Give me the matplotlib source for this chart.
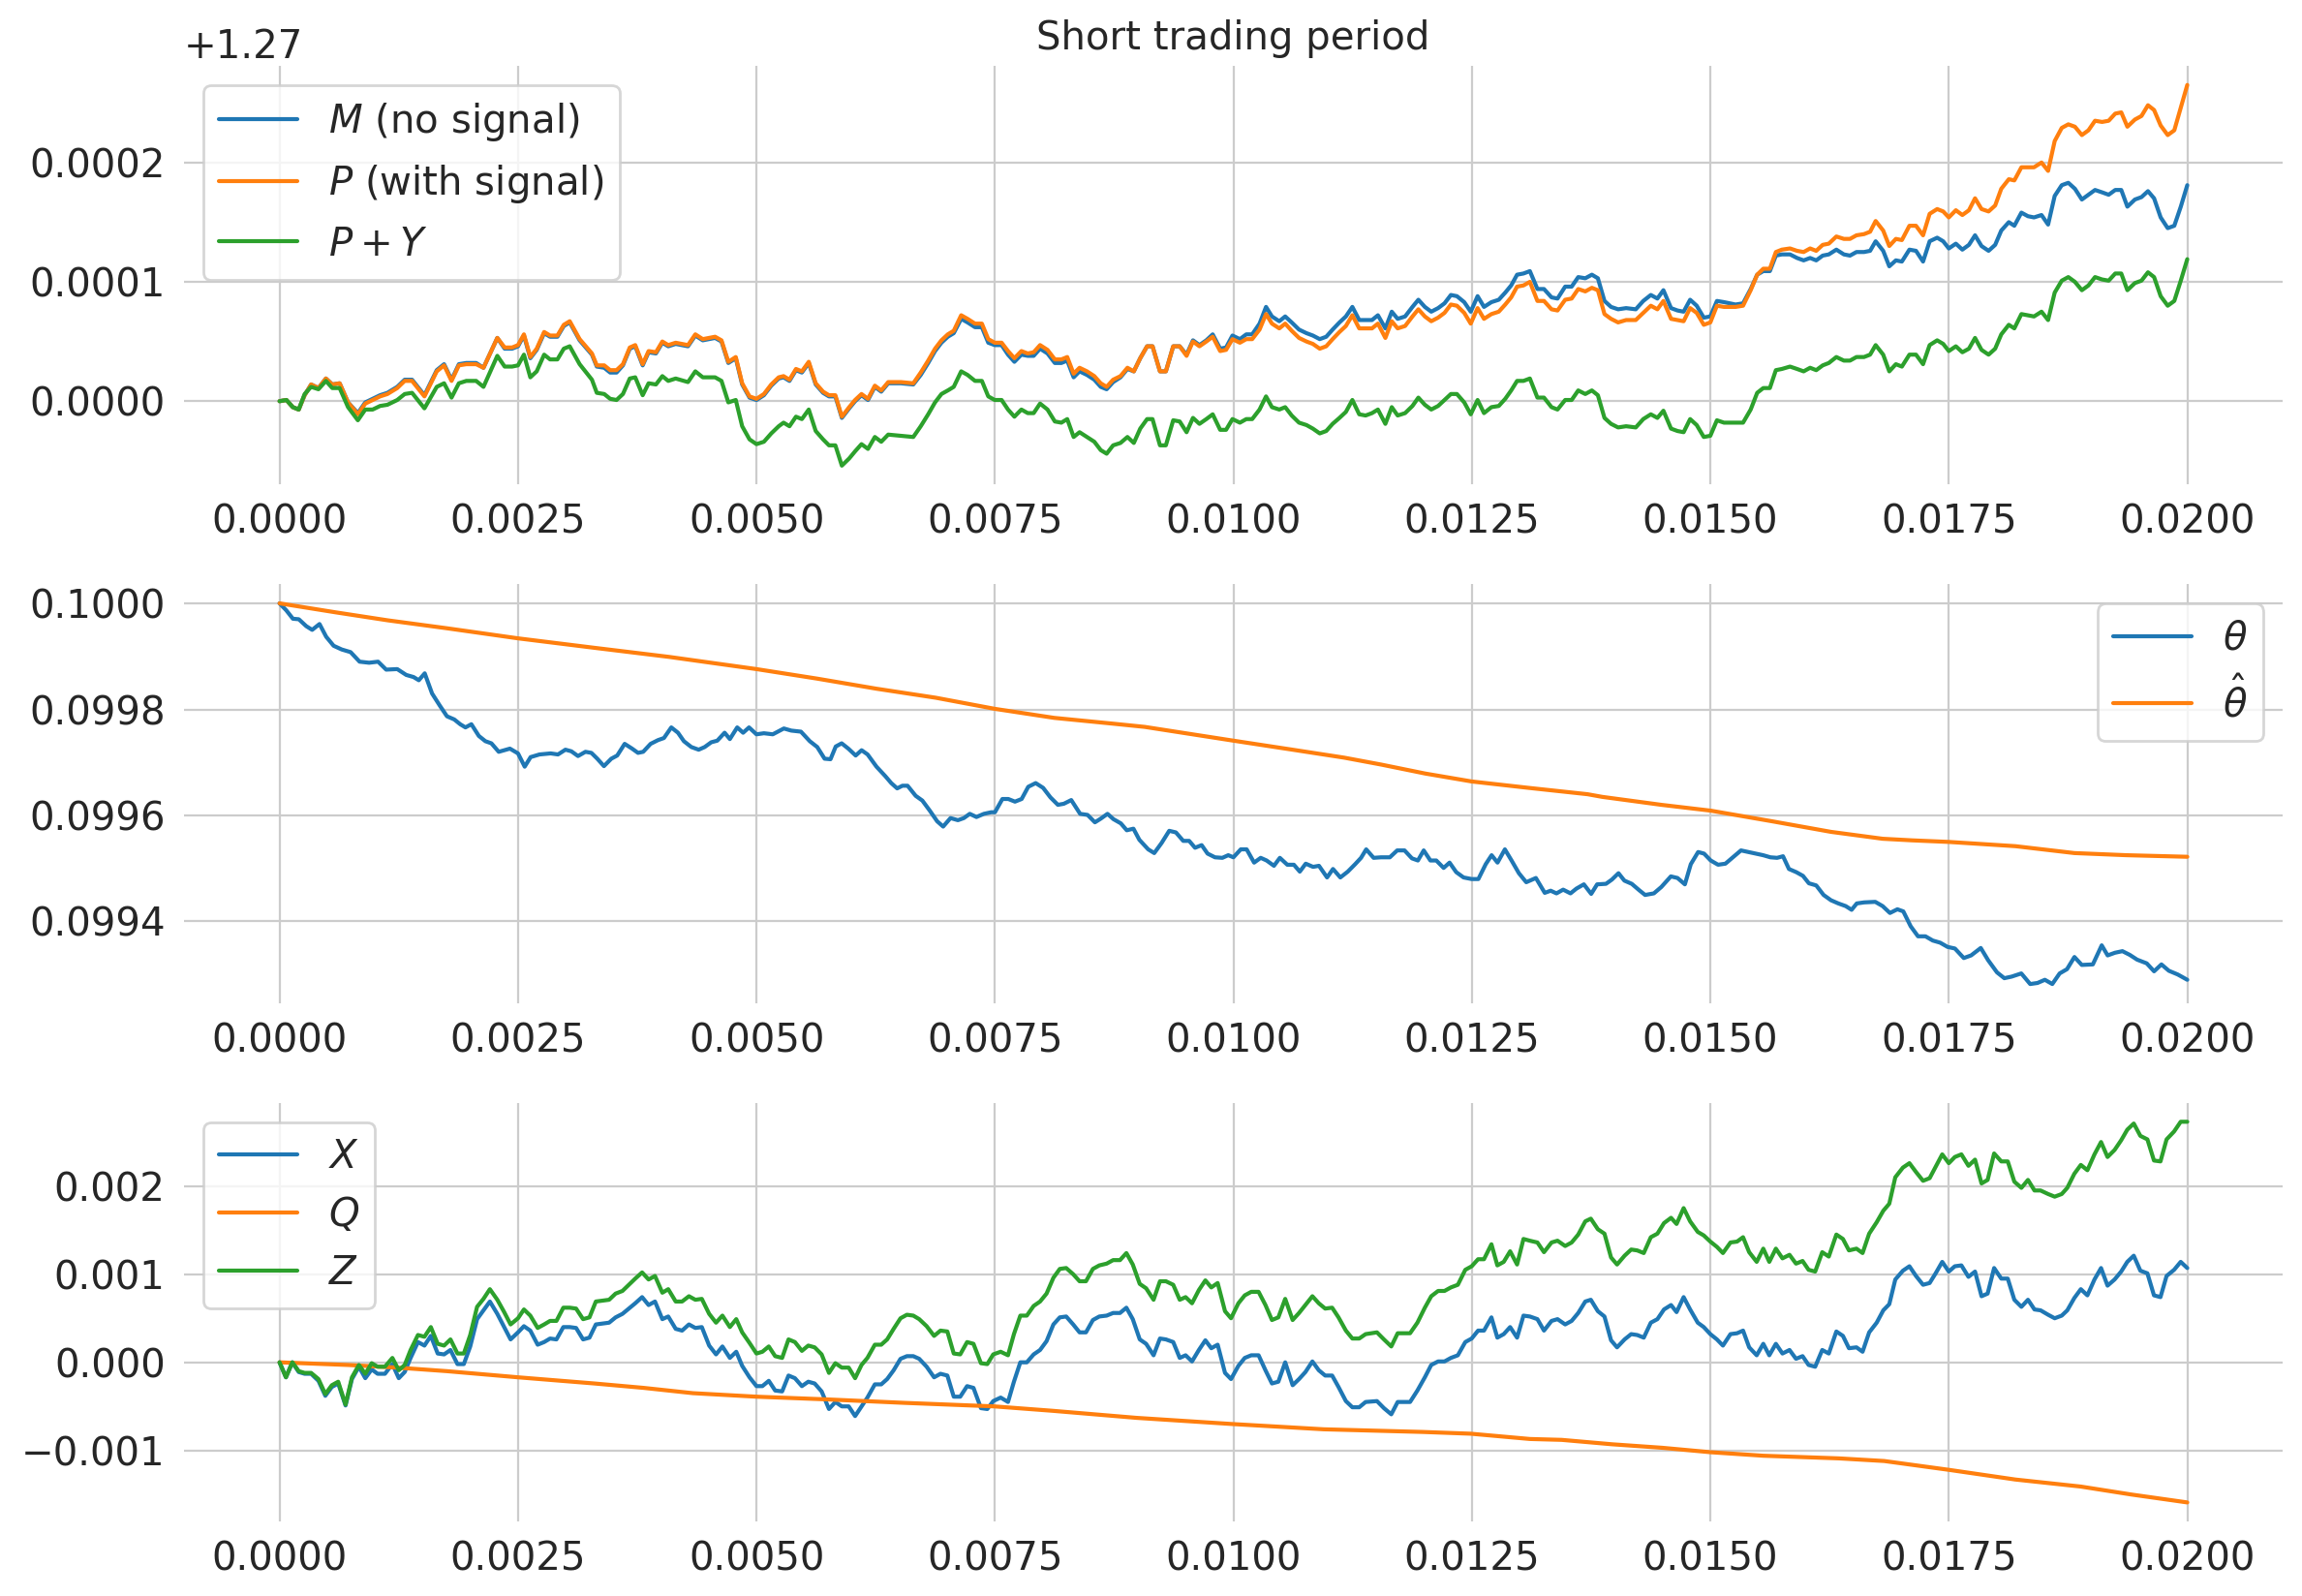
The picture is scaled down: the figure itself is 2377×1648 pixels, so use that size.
import numpy as np
import matplotlib
matplotlib.use("Agg")
import matplotlib.pyplot as plt
import seaborn as sns
from matplotlib.ticker import MultipleLocator, ScalarFormatter

# ---- top panel: prices (offset from 1.27, units of 1e-4) ----
t_top = [
    0.0, 0.000072, 0.000139, 0.000201, 0.000263, 0.000331, 0.000408, 0.000486, 0.000553, 0.000630,
    0.000718, 0.000821, 0.000899, 0.000976, 0.001054, 0.001131, 0.001234, 0.001312, 0.001389, 0.001519,
    0.001648, 0.001725, 0.001803, 0.001880, 0.001958, 0.002061, 0.002138, 0.002283, 0.002360, 0.002438,
    0.002500, 0.002562, 0.002629, 0.002696, 0.002774, 0.002836, 0.002913, 0.002980, 0.003042, 0.003146,
    0.003275, 0.003326, 0.003404, 0.003466, 0.003533, 0.003600, 0.003672, 0.003729, 0.003807, 0.003869,
    0.003946, 0.004013, 0.004075, 0.004153, 0.004282, 0.004359, 0.004437, 0.004566, 0.004633, 0.004705,
    0.004783, 0.004850, 0.004927,
    0.005000, 0.005078, 0.005155, 0.005233, 0.005284, 0.005346, 0.005414, 0.005476, 0.005548, 0.005621,
    0.005698, 0.005760, 0.005827, 0.005895, 0.005972, 0.006034, 0.006101, 0.006169, 0.006241, 0.006308,
    0.006381, 0.006515, 0.006644, 0.006722, 0.006800, 0.006872, 0.006939, 0.007006, 0.007068, 0.007146,
    0.007213, 0.007291, 0.007363, 0.007430, 0.007498, 0.007570, 0.007637, 0.007704, 0.007777, 0.007844,
    0.007906, 0.007973, 0.008051, 0.008128, 0.008196, 0.008258, 0.008325, 0.008387, 0.008465, 0.008542,
    0.008609, 0.008671, 0.008739, 0.008816, 0.008889, 0.008956, 0.009023, 0.009095, 0.009152, 0.009230,
    0.009292, 0.009369, 0.009437, 0.009509, 0.009576, 0.009644, 0.009716, 0.009783, 0.009861, 0.009923,
    0.009990, 0.010068, 0.010135, 0.010197, 0.010274, 0.010342, 0.010404, 0.010481, 0.010543, 0.010611,
    0.010688, 0.010766, 0.010833, 0.010905, 0.010973, 0.011040, 0.011112, 0.011179, 0.011247, 0.011319,
    0.011386, 0.011453, 0.011515, 0.011593, 0.011660, 0.011722, 0.011800, 0.011877, 0.011939, 0.012007,
    0.012074, 0.012146, 0.012213, 0.012280, 0.012343, 0.012420, 0.012488, 0.012560, 0.012627, 0.012705,
    0.012782, 0.012850, 0.012912, 0.012974, 0.013041, 0.013108,
    0.013187, 0.013256, 0.013335, 0.013398, 0.013478, 0.013546, 0.013615, 0.013689, 0.013758, 0.013821,
    0.013890, 0.013959, 0.014033, 0.014117, 0.014218, 0.014297, 0.014376, 0.014445, 0.014508, 0.014588,
    0.014656, 0.014720, 0.014788, 0.014857, 0.014931, 0.015000, 0.015069, 0.015143, 0.015264, 0.015343,
    0.015423, 0.015491, 0.015555, 0.015624, 0.015687, 0.015750, 0.015835, 0.015909, 0.015978, 0.016046,
    0.016110, 0.016178, 0.016242, 0.016321, 0.016400, 0.016464, 0.016532, 0.016611, 0.016675, 0.016733,
    0.016812, 0.016876, 0.016945, 0.017008, 0.017087, 0.017156, 0.017230, 0.017299, 0.017378, 0.017441,
    0.017500, 0.017574, 0.017642, 0.017711, 0.017775, 0.017843, 0.017917, 0.017986, 0.018050, 0.018129,
    0.018187, 0.018261, 0.018330, 0.018393, 0.018472, 0.018541, 0.018610, 0.018684, 0.018753, 0.018822,
    0.018895, 0.018964, 0.019033, 0.019107, 0.019176, 0.019245, 0.019308, 0.019372, 0.019451, 0.019520,
    0.019588, 0.019652, 0.019721, 0.019795, 0.019864, 0.019932, 0.020000,
]

m_top = [
    0, 0.01, -0.05, -0.07, 0.05, 0.14, 0.11, 0.19, 0.14, 0.15,
    -0.01, -0.10, -0.01, 0.02, 0.05, 0.07, 0.12, 0.18, 0.18, 0.05,
    0.26, 0.31, 0.18, 0.31, 0.32, 0.32, 0.28, 0.53, 0.44, 0.44,
    0.46, 0.55, 0.36, 0.43, 0.57, 0.54, 0.54, 0.63, 0.66, 0.51,
    0.39, 0.29, 0.28, 0.24, 0.24, 0.30, 0.44, 0.46, 0.30, 0.41,
    0.40, 0.49, 0.46, 0.48, 0.46, 0.55, 0.51, 0.53, 0.50, 0.32,
    0.36, 0.14, 0.03,
    0.01, 0.05, 0.13, 0.19, 0.20, 0.17, 0.26, 0.24, 0.32, 0.14,
    0.07, 0.04, 0.04, -0.14, -0.06, 0.00, 0.05, 0.01, 0.12, 0.08,
    0.15, 0.15, 0.14, 0.22, 0.32, 0.42, 0.49, 0.54, 0.57, 0.69,
    0.66, 0.62, 0.62, 0.49, 0.47, 0.47, 0.39, 0.33, 0.39, 0.38,
    0.38, 0.44, 0.40, 0.32, 0.32, 0.34, 0.20, 0.25, 0.22, 0.18,
    0.12, 0.10, 0.16, 0.20, 0.27, 0.25, 0.36, 0.46, 0.46, 0.25,
    0.25, 0.46, 0.46, 0.39, 0.51, 0.47, 0.51, 0.56, 0.44, 0.45,
    0.55, 0.52, 0.56, 0.56, 0.65, 0.79, 0.71, 0.67, 0.71, 0.66,
    0.60, 0.57, 0.55, 0.52, 0.54, 0.60, 0.66, 0.71, 0.79, 0.68,
    0.68, 0.68, 0.72, 0.61, 0.75, 0.69, 0.71, 0.79, 0.85, 0.79,
    0.75, 0.78, 0.82, 0.89, 0.88, 0.83, 0.75, 0.88, 0.79, 0.83,
    0.85, 0.91, 0.97, 1.06, 1.07, 1.09,
    0.94, 0.94, 0.87, 0.86, 0.96, 0.96, 1.04, 1.03, 1.06, 1.03,
    0.84, 0.79, 0.77, 0.78, 0.77, 0.84, 0.89, 0.86, 0.93, 0.78,
    0.76, 0.75, 0.85, 0.80, 0.70, 0.71, 0.84, 0.83, 0.81, 0.82,
    0.94, 1.06, 1.09, 1.09, 1.22, 1.23, 1.23, 1.20, 1.18, 1.20,
    1.18, 1.22, 1.23, 1.27, 1.23, 1.22, 1.25, 1.25, 1.26, 1.34,
    1.26, 1.13, 1.18, 1.17, 1.27, 1.26, 1.17, 1.34, 1.37, 1.34,
    1.28, 1.32, 1.27, 1.31, 1.39, 1.30, 1.26, 1.31, 1.43, 1.50,
    1.47, 1.58, 1.55, 1.54, 1.56, 1.48, 1.72, 1.81, 1.83, 1.78,
    1.69, 1.73, 1.77, 1.75, 1.73, 1.77, 1.77, 1.63, 1.69, 1.71,
    1.76, 1.70, 1.54, 1.45, 1.47, 1.63, 1.81,
]

p_top = [
    0, 0.01, -0.05, -0.07, 0.05, 0.14, 0.11, 0.19, 0.14, 0.15,
    -0.01, -0.11, -0.02, 0.01, 0.04, 0.06, 0.11, 0.17, 0.17, 0.04,
    0.25, 0.30, 0.17, 0.30, 0.31, 0.31, 0.28, 0.53, 0.45, 0.45,
    0.47, 0.56, 0.37, 0.44, 0.58, 0.55, 0.55, 0.64, 0.67, 0.52,
    0.40, 0.30, 0.30, 0.26, 0.26, 0.31, 0.45, 0.47, 0.31, 0.42,
    0.41, 0.50, 0.47, 0.49, 0.47, 0.56, 0.52, 0.54, 0.51, 0.33,
    0.37, 0.15, 0.04,
    0.02, 0.06, 0.14, 0.20, 0.21, 0.18, 0.27, 0.25, 0.33, 0.15,
    0.08, 0.05, 0.05, -0.13, -0.05, 0.01, 0.06, 0.02, 0.13, 0.09,
    0.16, 0.16, 0.15, 0.24, 0.34, 0.44, 0.51, 0.56, 0.59, 0.72,
    0.69, 0.65, 0.65, 0.52, 0.49, 0.49, 0.42, 0.36, 0.42, 0.40,
    0.41, 0.47, 0.43, 0.35, 0.35, 0.37, 0.23, 0.28, 0.25, 0.21,
    0.15, 0.12, 0.18, 0.21, 0.28, 0.25, 0.36, 0.46, 0.46, 0.25,
    0.25, 0.46, 0.46, 0.38, 0.50, 0.46, 0.50, 0.54, 0.42, 0.43,
    0.52, 0.49, 0.52, 0.52, 0.60, 0.73, 0.65, 0.61, 0.65, 0.59,
    0.53, 0.50, 0.48, 0.44, 0.46, 0.52, 0.58, 0.63, 0.72, 0.61,
    0.61, 0.61, 0.65, 0.53, 0.67, 0.61, 0.63, 0.71, 0.77, 0.71,
    0.67, 0.70, 0.74, 0.81, 0.80, 0.74, 0.65, 0.78, 0.69, 0.73,
    0.75, 0.81, 0.87, 0.96, 0.97, 1.00,
    0.84, 0.84, 0.77, 0.76, 0.85, 0.86, 0.94, 0.92, 0.95, 0.93,
    0.73, 0.69, 0.66, 0.68, 0.68, 0.74, 0.80, 0.77, 0.84, 0.69,
    0.68, 0.67, 0.78, 0.74, 0.64, 0.66, 0.80, 0.79, 0.79, 0.80,
    0.93, 1.06, 1.11, 1.11, 1.25, 1.27, 1.28, 1.26, 1.25, 1.28,
    1.26, 1.31, 1.32, 1.38, 1.36, 1.36, 1.39, 1.40, 1.42, 1.51,
    1.43, 1.30, 1.36, 1.35, 1.47, 1.47, 1.39, 1.57, 1.61, 1.59,
    1.54, 1.60, 1.56, 1.60, 1.70, 1.61, 1.59, 1.64, 1.78, 1.86,
    1.85, 1.96, 1.96, 1.96, 2.00, 1.93, 2.18, 2.29, 2.32, 2.30,
    2.23, 2.27, 2.35, 2.34, 2.35, 2.41, 2.42, 2.30, 2.36, 2.39,
    2.48, 2.44, 2.31, 2.23, 2.27, 2.46, 2.65,
]

py_top = [
    0, 0.01, -0.05, -0.07, 0.06, 0.12, 0.10, 0.17, 0.11, 0.11,
    -0.05, -0.16, -0.07, -0.07, -0.04, -0.03, 0.01, 0.06, 0.07, -0.06,
    0.12, 0.15, 0.03, 0.15, 0.17, 0.17, 0.12, 0.38, 0.29, 0.29,
    0.30, 0.39, 0.20, 0.25, 0.39, 0.35, 0.35, 0.44, 0.46, 0.31,
    0.18, 0.07, 0.06, 0.02, 0.01, 0.06, 0.19, 0.20, 0.05, 0.15,
    0.14, 0.21, 0.17, 0.19, 0.16, 0.25, 0.20, 0.20, 0.17, -0.01,
    0.01, -0.21, -0.32,
    -0.36, -0.34, -0.27, -0.21, -0.18, -0.21, -0.13, -0.15, -0.07, -0.25,
    -0.32, -0.37, -0.37, -0.54, -0.48, -0.42, -0.36, -0.40, -0.30, -0.34,
    -0.28, -0.29, -0.30, -0.21, -0.11, -0.01, 0.06, 0.09, 0.12, 0.25,
    0.22, 0.17, 0.17, 0.04, 0.01, 0.01, -0.07, -0.13, -0.07, -0.10,
    -0.10, -0.02, -0.07, -0.17, -0.18, -0.15, -0.30, -0.26, -0.30, -0.34,
    -0.41, -0.44, -0.37, -0.35, -0.30, -0.35, -0.23, -0.15, -0.15, -0.37,
    -0.37, -0.16, -0.17, -0.26, -0.14, -0.19, -0.15, -0.11, -0.24, -0.24,
    -0.15, -0.18, -0.15, -0.15, -0.07, 0.04, -0.05, -0.07, -0.05, -0.12,
    -0.18, -0.20, -0.23, -0.27, -0.25, -0.19, -0.14, -0.09, 0.01, -0.11,
    -0.12, -0.10, -0.07, -0.19, -0.05, -0.12, -0.10, -0.04, 0.03, -0.03,
    -0.07, -0.04, 0.01, 0.06, 0.06, -0.01, -0.11, 0.01, -0.10, -0.05,
    -0.04, 0.02, 0.09, 0.17, 0.17, 0.19,
    0.03, 0.03, -0.05, -0.07, 0.01, 0.01, 0.09, 0.06, 0.09, 0.05,
    -0.14, -0.19, -0.22, -0.21, -0.22, -0.15, -0.11, -0.14, -0.08, -0.23,
    -0.25, -0.26, -0.15, -0.20, -0.30, -0.29, -0.16, -0.18, -0.18, -0.18,
    -0.07, 0.07, 0.11, 0.11, 0.26, 0.27, 0.29, 0.27, 0.25, 0.28,
    0.26, 0.30, 0.32, 0.37, 0.34, 0.34, 0.37, 0.37, 0.39, 0.47,
    0.39, 0.25, 0.31, 0.29, 0.39, 0.39, 0.31, 0.47, 0.51, 0.48,
    0.42, 0.46, 0.41, 0.44, 0.53, 0.43, 0.39, 0.44, 0.56, 0.64,
    0.61, 0.73, 0.72, 0.71, 0.75, 0.68, 0.91, 1.01, 1.04, 1.00,
    0.93, 0.97, 1.04, 1.02, 1.01, 1.07, 1.07, 0.93, 0.99, 1.01,
    1.08, 1.04, 0.88, 0.80, 0.84, 1.01, 1.19,
]

# ---- middle panel: theta (offset from 0.1, units of 1e-4) ----
t_mid = [
    0.0, 0.000070, 0.000140, 0.000202, 0.000280, 0.000342, 0.000419, 0.000489, 0.000567, 0.000652,
    0.000745, 0.000839, 0.000939, 0.001033, 0.001118, 0.001234, 0.001328, 0.001405, 0.001460, 0.001522,
    0.001599, 0.001677, 0.001755, 0.001832, 0.001894, 0.001949, 0.002011, 0.002089, 0.002158, 0.002221,
    0.002298, 0.002415, 0.002500, 0.002570, 0.002632, 0.002725, 0.002842, 0.002919, 0.002997, 0.003059,
    0.003129, 0.003207, 0.003269, 0.003331, 0.003401, 0.003478, 0.003540, 0.003618, 0.003696, 0.003758,
    0.003812, 0.003890, 0.003967, 0.004030, 0.004107, 0.004177, 0.004239, 0.004317, 0.004394, 0.004457,
    0.004526, 0.004589, 0.004666, 0.004721, 0.004798, 0.004860, 0.004922, 0.005000, 0.005078, 0.005171,
    0.005287, 0.005365, 0.005466, 0.005559, 0.005637, 0.005714, 0.005776, 0.005831, 0.005893, 0.005963,
    0.006040, 0.006102, 0.006165, 0.006258, 0.006351, 0.006413, 0.006475, 0.006530, 0.006584, 0.006669,
    0.006739, 0.006817, 0.006894, 0.006957, 0.007034, 0.007112, 0.007174, 0.007236, 0.007306, 0.007384,
    0.007461, 0.007500, 0.007578, 0.007640, 0.007710, 0.007780, 0.007849, 0.007927, 0.008005, 0.008082,
    0.008160, 0.008222, 0.008300, 0.008393, 0.008471, 0.008548, 0.008610, 0.008680, 0.008742, 0.008820,
    0.008882, 0.008952, 0.009014, 0.009107, 0.009170, 0.009247,
    0.009327, 0.009397, 0.009474, 0.009536, 0.009598, 0.009667, 0.009729, 0.009807, 0.009884, 0.009946,
    0.010000, 0.010077, 0.010139, 0.010217, 0.010286, 0.010348, 0.010425, 0.010487, 0.010565, 0.010634,
    0.010696, 0.010758, 0.010835, 0.010897, 0.010982, 0.011044, 0.011121, 0.011199, 0.011276, 0.011338,
    0.011392, 0.011470, 0.011547, 0.011640, 0.011717, 0.011794, 0.011872, 0.011934, 0.011995, 0.012065,
    0.012127, 0.012204, 0.012266, 0.012336, 0.012413, 0.012498, 0.012568, 0.012645, 0.012707, 0.012769,
    0.012846, 0.012916, 0.012993, 0.013070, 0.013171, 0.013264, 0.013326, 0.013387, 0.013457, 0.013534,
    0.013596, 0.013674, 0.013751, 0.013813, 0.013906, 0.013968, 0.014037, 0.014099, 0.014176, 0.014254,
    0.014316, 0.014408, 0.014486, 0.014586, 0.014656, 0.014733, 0.014795, 0.014872, 0.014934, 0.015004,
    0.015081, 0.015158, 0.015236, 0.015321, 0.015398, 0.015476, 0.015553, 0.015630, 0.015700, 0.015762,
    0.015824, 0.015901, 0.015971, 0.016033, 0.016110, 0.016187, 0.016265, 0.016342, 0.016419, 0.016481,
    0.016535, 0.016613, 0.016729, 0.016806, 0.016883, 0.016961, 0.017023, 0.017100, 0.017177, 0.017255,
    0.017332, 0.017409, 0.017487, 0.017564, 0.017657, 0.017734, 0.017835, 0.017912, 0.018005, 0.018082,
    0.018159, 0.018260, 0.018353, 0.018430, 0.018507, 0.018585, 0.018662, 0.018739, 0.018817, 0.018894,
    0.019010, 0.019103, 0.019165, 0.019242, 0.019320, 0.019397, 0.019474, 0.019575, 0.019652, 0.019729,
    0.019807, 0.019900, 0.020000,
]

theta = [
    0, -0.13, -0.29, -0.30, -0.43, -0.50, -0.39, -0.63, -0.80, -0.87,
    -0.92, -1.10, -1.12, -1.10, -1.25, -1.24, -1.35, -1.39, -1.45, -1.32,
    -1.70, -1.92, -2.13, -2.19, -2.28, -2.34, -2.28, -2.50, -2.60, -2.64,
    -2.80, -2.74, -2.83, -3.08, -2.90, -2.85, -2.83, -2.85, -2.76, -2.79,
    -2.88, -2.80, -2.82, -2.93, -3.07, -2.93, -2.87, -2.65, -2.74, -2.82,
    -2.80, -2.65, -2.58, -2.54, -2.34, -2.44, -2.60, -2.71, -2.76, -2.71,
    -2.62, -2.59, -2.44, -2.56, -2.34, -2.44, -2.34, -2.47, -2.45, -2.47,
    -2.36, -2.40, -2.42, -2.60, -2.71, -2.93, -2.94, -2.70, -2.64, -2.74,
    -2.87, -2.77, -2.85, -3.08, -3.26, -3.39, -3.49, -3.44, -3.44, -3.63,
    -3.72, -3.91, -4.11, -4.21, -4.05, -4.09, -4.05, -3.97, -4.03, -3.97,
    -3.94, -3.94, -3.69, -3.69, -3.74, -3.69, -3.46, -3.39, -3.48, -3.66,
    -3.80, -3.78, -3.71, -3.97, -3.99, -4.13, -4.06, -3.97, -4.07, -4.15,
    -4.28, -4.25, -4.46, -4.64, -4.71, -4.52,
    -4.29, -4.32, -4.48, -4.48, -4.61, -4.56, -4.72, -4.79, -4.80, -4.75,
    -4.79, -4.64, -4.64, -4.89, -4.80, -4.85, -4.95, -4.80, -4.93, -4.93,
    -5.06, -4.91, -4.97, -4.95, -5.17, -5.01, -5.17, -5.06, -4.92, -4.80,
    -4.64, -4.80, -4.79, -4.79, -4.66, -4.66, -4.81, -4.85, -4.66, -4.85,
    -4.85, -4.99, -4.89, -5.07, -5.17, -5.20, -5.20, -4.92, -4.75, -4.89,
    -4.64, -4.85, -5.09, -5.26, -5.18, -5.46, -5.42, -5.47, -5.40, -5.47,
    -5.38, -5.30, -5.48, -5.30, -5.29, -5.21, -5.09, -5.23, -5.29, -5.41,
    -5.50, -5.47, -5.35, -5.15, -5.18, -5.30, -4.92, -4.69, -4.72, -4.85,
    -4.93, -4.91, -4.79, -4.66, -4.69, -4.72, -4.75, -4.79, -4.80, -4.77,
    -5.01, -5.07, -5.14, -5.28, -5.32, -5.50, -5.60, -5.66, -5.71, -5.78,
    -5.66, -5.64, -5.63, -5.71, -5.84, -5.77, -5.81, -6.09, -6.28, -6.28,
    -6.36, -6.40, -6.48, -6.51, -6.69, -6.64, -6.50, -6.73, -6.96, -7.07,
    -7.04, -6.98, -7.18, -7.16, -7.10, -7.18, -6.98, -6.90, -6.67, -6.82,
    -6.81, -6.45, -6.64, -6.59, -6.56, -6.63, -6.72, -6.79, -6.94, -6.81,
    -6.93, -7.00, -7.10,
]

t_hat = [
    0.0, 0.00059, 0.001134, 0.001755, 0.0025, 0.003307, 0.004084, 0.005, 0.005637, 0.006258,
    0.006879, 0.0075, 0.008121, 0.008742, 0.00907, 0.01, 0.010619, 0.01116, 0.011547, 0.012011,
    0.0125, 0.013094, 0.013713, 0.013867, 0.014486, 0.015004, 0.015646, 0.016265, 0.016806, 0.017115,
    0.017502, 0.018198, 0.018817, 0.019358, 0.02,
]
theta_hat = [
    0, -0.17, -0.32, -0.47, -0.66, -0.84, -1.01, -1.24, -1.42, -1.61,
    -1.78, -1.99, -2.16, -2.27, -2.33, -2.59, -2.76, -2.91, -3.04, -3.21,
    -3.36, -3.48, -3.60, -3.65, -3.80, -3.91, -4.11, -4.31, -4.44, -4.47,
    -4.50, -4.58, -4.71, -4.75, -4.78,
]

# ---- bottom panel: X, Q, Z (units of 1e-3) ----
t_bot = [
    0.0, 0.000067, 0.000134, 0.000201, 0.000263, 0.000331, 0.000408, 0.000480, 0.000548, 0.000615,
    0.000692, 0.000759, 0.000832, 0.000899, 0.000966, 0.001028, 0.001105, 0.001183, 0.001250, 0.001312,
    0.001374, 0.001451, 0.001519, 0.001586, 0.001658, 0.001725, 0.001792, 0.001865, 0.001932, 0.001999,
    0.002071, 0.002138, 0.002205, 0.002283, 0.002355, 0.002422, 0.002500, 0.002562, 0.002629, 0.002706,
    0.002774, 0.002836, 0.002903, 0.002975, 0.003042, 0.003109, 0.003182, 0.003249, 0.003316, 0.003388,
    0.003455, 0.003523, 0.003595, 0.003662, 0.003729, 0.003801, 0.003869, 0.003936, 0.004013, 0.004075,
    0.004153, 0.004220, 0.004292, 0.004359, 0.004427, 0.004504, 0.004576, 0.004643, 0.004721, 0.004788,
    0.004850, 0.004927,
    0.005000, 0.005062, 0.005129, 0.005196, 0.005269, 0.005336, 0.005403, 0.005476, 0.005543, 0.005610,
    0.005683, 0.005760, 0.005827, 0.005895, 0.005967, 0.006034, 0.006101, 0.006163, 0.006241, 0.006308,
    0.006370, 0.006438, 0.006510, 0.006577, 0.006644, 0.006706, 0.006784, 0.006862, 0.006929, 0.007001,
    0.007068, 0.007136, 0.007208, 0.007275, 0.007353, 0.007420, 0.007482, 0.007560, 0.007637, 0.007699,
    0.007766, 0.007834, 0.007906, 0.007973, 0.008041, 0.008113, 0.008180, 0.008247, 0.008320, 0.008387,
    0.008454, 0.008527, 0.008594, 0.008671, 0.008739, 0.008811, 0.008878, 0.008945, 0.009018, 0.009085,
    0.009163, 0.009230, 0.009292, 0.009369, 0.009437, 0.009499, 0.009566, 0.009638, 0.009706, 0.009768,
    0.009835, 0.009912, 0.009975, 0.010052, 0.010119, 0.010187, 0.010264, 0.010336, 0.010404, 0.010471,
    0.010543, 0.010621, 0.010688, 0.010755, 0.010828, 0.010895, 0.010962, 0.011035, 0.011102, 0.011179,
    0.011247, 0.011319, 0.011386, 0.011505, 0.011578, 0.011655, 0.011722, 0.011852, 0.011929, 0.012007,
    0.012074, 0.012146, 0.012213, 0.012280, 0.012353, 0.012431, 0.012498, 0.012565, 0.012627, 0.012705,
    0.012767, 0.012834, 0.012901, 0.012974, 0.013041, 0.013108,
    0.013187, 0.013256, 0.013335, 0.013398, 0.013478, 0.013546, 0.013615, 0.013689, 0.013747, 0.013821,
    0.013890, 0.013959, 0.014022, 0.014101, 0.014170, 0.014233, 0.014302, 0.014376, 0.014445, 0.014514,
    0.014588, 0.014646, 0.014720, 0.014788, 0.014868, 0.014931, 0.015000, 0.015069, 0.015132, 0.015211,
    0.015280, 0.015343, 0.015407, 0.015486, 0.015555, 0.015618, 0.015687, 0.015756, 0.015830, 0.015898,
    0.015967, 0.016030, 0.016099, 0.016173, 0.016242, 0.016321, 0.016390, 0.016453, 0.016532, 0.016596,
    0.016665, 0.016744, 0.016813, 0.016876, 0.016939, 0.017019, 0.017087, 0.017156, 0.017230, 0.017299,
    0.017362, 0.017431, 0.017500, 0.017563, 0.017632, 0.017706, 0.017775, 0.017843, 0.017907, 0.017975,
    0.018050, 0.018118, 0.018187, 0.018261, 0.018330, 0.018398, 0.018462, 0.018541, 0.018610, 0.018684,
    0.018742, 0.018816, 0.018884, 0.018953, 0.019027, 0.019096, 0.019164, 0.019238, 0.019307, 0.019371,
    0.019439, 0.019508, 0.019582, 0.019651, 0.019719, 0.019783, 0.019862, 0.019931, 0.020000,
]

x_bot = [
    0, -0.17, 0, -0.11, -0.13, -0.13, -0.21, -0.38, -0.28, -0.24,
    -0.49, -0.19, -0.05, -0.18, -0.08, -0.13, -0.13, -0.02, -0.18, -0.11,
    0.05, 0.23, 0.19, 0.30, 0.10, 0.09, 0.14, -0.02, -0.02, 0.18,
    0.49, 0.59, 0.69, 0.55, 0.40, 0.26, 0.34, 0.41, 0.36, 0.20,
    0.23, 0.27, 0.26, 0.40, 0.40, 0.39, 0.26, 0.28, 0.43, 0.44,
    0.45, 0.51, 0.55, 0.61, 0.67, 0.74, 0.65, 0.69, 0.49, 0.52,
    0.38, 0.36, 0.43, 0.39, 0.40, 0.19, 0.09, 0.18, 0.05, 0.12,
    -0.04, -0.17,
    -0.27, -0.27, -0.21, -0.32, -0.33, -0.15, -0.18, -0.27, -0.22, -0.24,
    -0.33, -0.53, -0.45, -0.50, -0.50, -0.61, -0.50, -0.40, -0.25, -0.25,
    -0.19, -0.09, 0.04, 0.07, 0.07, 0.04, -0.05, -0.17, -0.13, -0.15,
    -0.39, -0.39, -0.27, -0.29, -0.52, -0.53, -0.44, -0.40, -0.45, -0.22,
    0.00, 0.00, 0.09, 0.14, 0.24, 0.43, 0.51, 0.52, 0.43, 0.34,
    0.34, 0.48, 0.52, 0.53, 0.56, 0.56, 0.62, 0.49, 0.26, 0.21,
    0.08, 0.27, 0.26, 0.23, 0.05, 0.08, 0.01, 0.14, 0.25, 0.16,
    0.20, -0.12, -0.19, -0.04, 0.05, 0.08, 0.08, -0.09, -0.24, -0.22,
    0.00, -0.26, -0.19, -0.11, 0.01, -0.09, -0.15, -0.15, -0.28, -0.44,
    -0.51, -0.51, -0.45, -0.44, -0.52, -0.59, -0.45, -0.45, -0.32, -0.17,
    -0.03, 0.01, 0.01, 0.05, 0.08, 0.23, 0.27, 0.36, 0.36, 0.51,
    0.28, 0.32, 0.40, 0.28, 0.53, 0.52,
    0.49, 0.36, 0.47, 0.49, 0.43, 0.47, 0.56, 0.69, 0.71, 0.58,
    0.52, 0.25, 0.17, 0.26, 0.32, 0.31, 0.28, 0.45, 0.49, 0.60,
    0.65, 0.57, 0.74, 0.60, 0.45, 0.40, 0.32, 0.26, 0.19, 0.32,
    0.33, 0.36, 0.17, 0.08, 0.21, 0.08, 0.21, 0.10, 0.14, 0.04,
    0.07, -0.03, -0.05, 0.14, 0.10, 0.35, 0.30, 0.16, 0.17, 0.12,
    0.34, 0.45, 0.59, 0.66, 0.94, 1.04, 1.09, 0.98, 0.88, 0.90,
    1.01, 1.14, 1.03, 1.09, 1.10, 0.97, 1.03, 0.75, 0.78, 1.07,
    0.95, 0.95, 0.71, 0.63, 0.71, 0.60, 0.59, 0.54, 0.50, 0.53,
    0.59, 0.73, 0.83, 0.76, 0.94, 1.07, 0.87, 0.94, 1.03, 1.14,
    1.21, 1.04, 1.01, 0.76, 0.74, 0.98, 1.05, 1.14, 1.07,
]

z_bot = [
    0, -0.17, 0, -0.10, -0.12, -0.12, -0.19, -0.36, -0.26, -0.22,
    -0.48, -0.17, -0.03, -0.13, -0.01, -0.05, -0.05, 0.05, -0.09, -0.03,
    0.14, 0.31, 0.29, 0.40, 0.21, 0.19, 0.26, 0.10, 0.10, 0.31,
    0.63, 0.72, 0.83, 0.71, 0.57, 0.43, 0.50, 0.60, 0.53, 0.39,
    0.43, 0.47, 0.47, 0.62, 0.62, 0.61, 0.49, 0.51, 0.69, 0.70,
    0.71, 0.78, 0.81, 0.88, 0.95, 1.02, 0.94, 0.98, 0.79, 0.83,
    0.69, 0.69, 0.75, 0.71, 0.72, 0.55, 0.45, 0.53, 0.40, 0.49,
    0.34, 0.22,
    0.10, 0.12, 0.18, 0.07, 0.05, 0.26, 0.23, 0.13, 0.19, 0.17,
    0.09, -0.12, -0.01, -0.06, -0.06, -0.18, -0.03, 0.05, 0.20, 0.20,
    0.26, 0.38, 0.50, 0.54, 0.53, 0.49, 0.41, 0.30, 0.36, 0.35,
    0.10, 0.09, 0.23, 0.21, -0.01, -0.02, 0.09, 0.12, 0.08, 0.32,
    0.53, 0.53, 0.64, 0.69, 0.78, 0.96, 1.06, 1.07, 1.00, 0.92,
    0.92, 1.06, 1.10, 1.12, 1.16, 1.16, 1.24, 1.11, 0.89, 0.84,
    0.71, 0.92, 0.92, 0.88, 0.71, 0.74, 0.67, 0.82, 0.93, 0.85,
    0.90, 0.58, 0.50, 0.67, 0.76, 0.80, 0.80, 0.65, 0.48, 0.51,
    0.72, 0.48, 0.56, 0.65, 0.75, 0.67, 0.61, 0.62, 0.51, 0.36,
    0.27, 0.27, 0.32, 0.34, 0.26, 0.18, 0.33, 0.33, 0.45, 0.62,
    0.75, 0.81, 0.81, 0.85, 0.88, 1.05, 1.09, 1.17, 1.17, 1.34,
    1.10, 1.14, 1.26, 1.11, 1.40, 1.38,
    1.36, 1.25, 1.36, 1.38, 1.32, 1.36, 1.45, 1.60, 1.63, 1.51,
    1.46, 1.19, 1.11, 1.21, 1.28, 1.27, 1.24, 1.42, 1.46, 1.58,
    1.64, 1.57, 1.75, 1.60, 1.48, 1.44, 1.37, 1.31, 1.24, 1.36,
    1.37, 1.42, 1.25, 1.14, 1.29, 1.14, 1.29, 1.18, 1.22, 1.12,
    1.15, 1.05, 1.03, 1.25, 1.20, 1.45, 1.40, 1.27, 1.29, 1.24,
    1.46, 1.59, 1.72, 1.80, 2.10, 2.21, 2.26, 2.16, 2.06, 2.09,
    2.22, 2.36, 2.26, 2.33, 2.36, 2.23, 2.30, 2.03, 2.07, 2.37,
    2.28, 2.28, 2.05, 1.98, 2.07, 1.95, 1.95, 1.91, 1.88, 1.91,
    1.98, 2.14, 2.24, 2.18, 2.36, 2.50, 2.33, 2.41, 2.52, 2.64,
    2.71, 2.57, 2.53, 2.29, 2.28, 2.53, 2.62, 2.73, 2.73,
]

t_q = [
    0.0, 0.000718, 0.001234, 0.001751, 0.0025, 0.0033, 0.003817, 0.004333, 0.005, 0.005724,
    0.006551, 0.007492, 0.008103, 0.008982, 0.009985, 0.010947, 0.011981, 0.012488, 0.013108, 0.013441,
    0.013969, 0.014498, 0.015, 0.015555, 0.016347, 0.016823, 0.0175, 0.018197, 0.018884, 0.019413,
    0.02,
]
q_bot = [
    0, -0.03, -0.06, -0.10, -0.17, -0.24, -0.29, -0.35, -0.39, -0.42,
    -0.46, -0.50, -0.55, -0.63, -0.70, -0.76, -0.79, -0.81, -0.87, -0.88,
    -0.93, -0.97, -1.02, -1.06, -1.09, -1.12, -1.22, -1.33, -1.41, -1.50,
    -1.59,
]


def line(ax, t, y, scale, base, label):
    n = min(len(t), len(y))
    ax.plot(np.array(t[:n]), base + np.array(y[:n]) * scale, label=label, lw=1.5)


sns.set_style("whitegrid")
fs = 14.5
plt.rcParams['font.family'] = ['DejaVu Sans']
plt.rcParams['font.size'] = fs
plt.rcParams['xtick.labelsize'] = fs
plt.rcParams['ytick.labelsize'] = fs
plt.rcParams['legend.fontsize'] = fs
plt.rcParams['axes.titlesize'] = fs

fig, axes = plt.subplots(3, 1, figsize=(2377 / 200, 1648 / 200), dpi=200)
fig.subplots_adjust(left=0.080, right=0.9916, top=0.9587, bottom=0.0467, hspace=0.238)

ax = axes[0]
line(ax, t_top, m_top, 1e-4, 1.27, r'$M$ (no signal)')
line(ax, t_top, p_top, 1e-4, 1.27, r'$P$ (with signal)')
line(ax, t_top, py_top, 1e-4, 1.27, r'$P + Y$')
ax.set_title("Short trading period")
ax.yaxis.set_major_locator(MultipleLocator(0.0001))
ax.yaxis.set_major_formatter(ScalarFormatter(useOffset=1.27))
ax.legend(loc='upper left')

ax = axes[1]
line(ax, t_mid, theta, 1e-4, 0.1, r'$\theta$')
line(ax, t_hat, theta_hat, 1e-4, 0.1, r'$\hat{\theta}$')
ax.yaxis.set_major_locator(MultipleLocator(0.0002))
ax.yaxis.set_major_formatter(ScalarFormatter(useOffset=False))
ax.legend(loc='upper right')

ax = axes[2]
line(ax, t_bot, x_bot, 1e-3, 0.0, r'$X$')
line(ax, t_q, q_bot, 1e-3, 0.0, r'$Q$')
line(ax, t_bot, z_bot, 1e-3, 0.0, r'$Z$')
ax.yaxis.set_major_locator(MultipleLocator(0.001))
ax.yaxis.set_major_formatter(ScalarFormatter(useOffset=False))
ax.legend(loc='upper left')

for ax in axes:
    ax.xaxis.set_major_locator(MultipleLocator(0.0025))
    ax.xaxis.set_major_formatter(ScalarFormatter(useOffset=False))
    sns.despine(ax=ax, left=True, bottom=True)

fig.savefig("out.png", dpi=200)
